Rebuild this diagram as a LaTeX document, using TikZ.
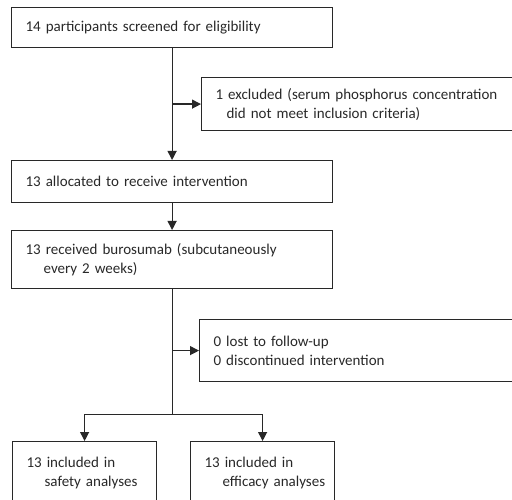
\documentclass[tikz,border=0pt]{standalone}
\usepackage{fontspec}
\setmainfont{Carlito}
\usepackage{tikz}
\usetikzlibrary{positioning,arrows.meta}
\definecolor{ink}{RGB}{40,40,40}
\newcommand\flowfont{\fontsize{15}{19}\selectfont}
\tikzset{
  box/.style={draw=ink, line width=1.2pt, anchor=north west, align=left, inner xsep=14pt, inner ysep=0pt, text width=#1, font=\flowfont, text=ink},
  arrow/.style={-{Triangle[length=9pt,width=9pt]}, line width=1.2pt, draw=ink},
  line/.style={line width=1.2pt, draw=ink}
}

\begin{document}
\begin{tikzpicture}[x=1pt,y=-1pt]
  \clip (0,0) rectangle (512,500);
  \node[box=293pt, minimum height=40pt] (screen) at (11,7) {14 participants screened for eligibility};
  \node[box=301pt, minimum height=53pt] (excl) at (201,77) {1 excluded (serum phosphorus concentration\\\hspace*{11pt}did not meet inclusion criteria)};
  \node[box=293pt, minimum height=42pt] (alloc) at (11,160) {13 allocated to receive intervention};
  \node[box=293pt, minimum height=58pt] (recv) at (11,230) {13 received burosumab (subcutaneously\\\hspace*{18pt}every 2 weeks)};
  \node[box=303pt, minimum height=62pt] (lost) at (199,319) {0 lost to follow-up\\0 discontinued intervention};
  \node[box=116pt, minimum height=63pt] (safety) at (12,441) {13 included in\\\hspace*{18pt}\mbox{safety analyses}};
  \node[box=116pt, minimum height=63pt] (effic) at (190,441) {13 included in\\\hspace*{18pt}\mbox{efficacy analyses}};
  \coordinate (fork) at ([yshift=-125pt]recv.south);
  % main flow
  \draw[arrow] (screen.south) -- (alloc.north);
  \draw[arrow] (screen.south |- excl.west) -- (excl.west);
  \draw[arrow] (alloc.south) -- (recv.north);
  \draw[line] (recv.south) -- (fork);
  \draw[arrow] (recv.south |- lost.west) -- (lost.west);
  % split into analyses
  \draw[arrow] (fork) -| (safety.north);
  \draw[arrow] (fork) -| (effic.north);
\end{tikzpicture}
\end{document}
